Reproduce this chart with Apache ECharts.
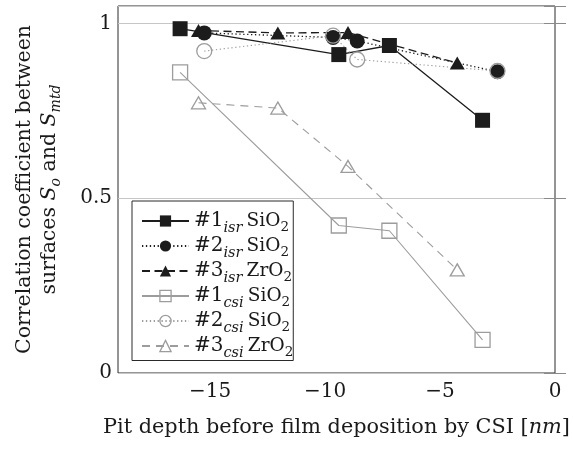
<!DOCTYPE html>
<html>
<head>
<meta charset="utf-8">
<script src="https://cdn.jsdelivr.net/npm/echarts@6/dist/echarts.min.js"></script>
<style>
  html, body { margin: 0; padding: 0; background: #fff; }
  #chart { width: 573px; height: 449px; }
</style>
</head>
<body>
<div id="chart"></div>
<script>
// Pit depth before deposition [nm] for the three samples
const depth1 = [-16.3, -9.4, -7.2, -3.15];
const depth2 = [-15.25, -9.65, -8.6, -2.5];
const depth3 = [-15.5, -12.05, -9.0, -4.25];

// Correlation coefficients, isr and csi measurements
const isr1 = [0.985, 0.911, 0.937, 0.723];
const isr2 = [0.973, 0.960, 0.950, 0.862];
const isr3 = [0.980, 0.973, 0.974, 0.887];
const csi1 = [0.860, 0.422, 0.407, 0.095];
const csi2 = [0.921, 0.965, 0.897, 0.864];
const csi3 = [0.773, 0.758, 0.591, 0.295];

// Axis ticks
const xTicks = [-15, -10, -5, 0];
const yTicks = [0, 0.5, 1];

// Legend parts: sample number, method, film material
const sampleIds = ['1', '2', '3', '1', '2', '3'];
const methods = ['isr', 'isr', 'isr', 'csi', 'csi', 'csi'];
const materials = ['SiO', 'SiO', 'ZrO', 'SiO', 'SiO', 'ZrO'];

const FONT = 'DejaVu Serif';
const INK = '#1a1a1a';
const BLACK = '#1c1c1c';
const GRAY = '#9c9c9c';

const names = sampleIds.map((id, i) => '#' + id + methods[i] + ' ' + materials[i] + '2');

const depths = [depth1, depth2, depth3, depth1, depth2, depth3];
const values = [isr1, isr2, isr3, csi1, csi2, csi3];
const symbols = ['rect', 'circle', 'triangle', 'rect', 'circle', 'triangle'];
const symbolSizes = [15, 15, [15, 13], 15, 15, [14, 12]];
const lineTypes = ['solid', [1.3, 2.6], [8, 4.5], 'solid', [1.3, 2.6], [8, 6]];

const series = names.map((name, i) => {
  const filled = i < 3;
  const col = filled ? BLACK : GRAY;
  return {
    name: name,
    type: 'line',
    data: depths[i].map((x, k) => [x, values[i][k]]),
    symbol: symbols[i],
    symbolSize: symbolSizes[i],
    showAllSymbol: true,
    lineStyle: { color: col, width: filled ? 1.3 : 1.1, type: lineTypes[i] },
    itemStyle: filled
      ? { color: col, borderColor: col, borderWidth: 0 }
      : { color: 'rgba(255,255,255,0)', borderColor: col, borderWidth: 1.3 },
    emphasis: { disabled: true },
    silent: true,
    z: 3
  };
});

// text tokens: main glyphs centred in the line, subscripts pushed down from the line top
const main = (size, extra) => Object.assign({ fontSize: size, fontFamily: FONT, color: INK, verticalAlign: 'middle' }, extra);
const sub = (size, drop, extra) => Object.assign({ fontSize: size, fontFamily: FONT, color: INK, verticalAlign: 'top', lineHeight: 1, padding: [drop, 0, 0, 0] }, extra);

const chart = echarts.init(document.getElementById('chart'), null, { renderer: 'canvas' });

chart.setOption({
  animation: false,
  backgroundColor: '#fff',
  textStyle: { fontFamily: FONT },
  grid: {
    left: 118, right: 18, top: 6, bottom: 76,
    outerBoundsMode: 'none',
    containLabel: false,
    show: true, borderColor: '#2a2a2a', borderWidth: 1, backgroundColor: 'transparent'
  },
  legend: {
    orient: 'vertical',
    left: 132, top: 201,
    padding: [10, 0, 0, 9],
    itemWidth: 47, itemHeight: 14, itemGap: 0.5, itemTextGap: 9,
    itemStyle: { borderWidth: 'inherit' },
    backgroundColor: '#fff',
    borderColor: '#2a2a2a', borderWidth: 1, borderRadius: 0,
    data: names,
    formatter: (name) => {
      const i = names.indexOf(name);
      return '{h|#' + sampleIds[i] + '}{s|' + methods[i] + '}{g| }{m|' + materials[i] + '}{ms|2}';
    },
    textStyle: {
      fontFamily: FONT, color: INK,
      rich: {
        h: main(20, { lineHeight: 15 }),
        s: sub(14.5, 7, { fontStyle: 'italic' }),
        g: { fontSize: 13, lineHeight: 15 },
        m: main(18.5, { lineHeight: 15 }),
        ms: sub(13.5, 7)
      }
    }
  },
  xAxis: {
    type: 'value', min: -19, max: 0,
    axisLine: { show: false },
    axisTick: { show: false },
    splitLine: { show: false },
    axisLabel: {
      customValues: xTicks,
      margin: 9,
      fontSize: 20, fontFamily: FONT, color: INK,
      formatter: (v) => (v < 0 ? '\u2212' + Math.abs(v) : String(v))
    },
    name: '{t|Pit depth before film deposition by CSI [}{i|nm}{t|]}',
    nameLocation: 'middle',
    nameGap: 44,
    nameTextStyle: {
      rich: {
        t: main(20.8),
        i: main(20.8, { fontStyle: 'italic' })
      }
    }
  },
  yAxis: [{
    type: 'value', min: 0, max: 1.05, interval: 0.5,
    axisLine: { show: false },
    axisTick: { show: true, inside: true, length: 11, lineStyle: { color: '#8a8a8a' } },
    splitLine: { show: true, lineStyle: { color: '#c6c6c6', width: 1 } },
    axisLabel: {
      margin: 6,
      fontSize: 20, fontFamily: FONT, color: INK,
      formatter: (v) => (yTicks.indexOf(v) >= 0 ? String(v) : '')
    },
    name: '{t|Correlation coefficient between}\n{t|surfaces }{v|S}{sb|o}{t| and }{v|S}{sb|mtd}',
    nameLocation: 'middle',
    nameGap: 56,
    nameTextStyle: {
      rich: {
        t: main(20.5, { lineHeight: 25 }),
        v: main(20.5, { lineHeight: 25, fontStyle: 'italic' }),
        sb: sub(14, 12, { fontStyle: 'italic' })
      }
    }
  }, {
    type: 'value', min: 0, max: 1.05, interval: 0.5, position: 'right',
    axisLine: { show: false },
    axisTick: { show: true, inside: true, length: 11, lineStyle: { color: '#8a8a8a' } },
    splitLine: { show: false },
    axisLabel: { show: false }
  }],
  series: series
});
</script>
</body>
</html>
